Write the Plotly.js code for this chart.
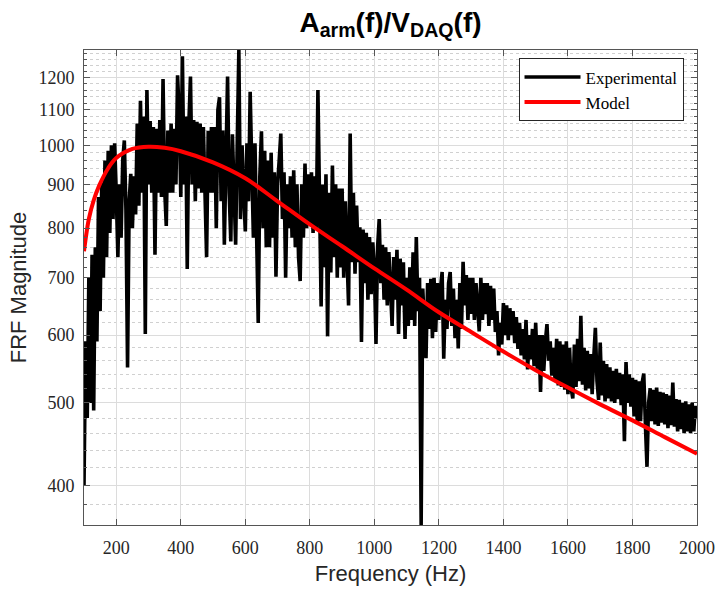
<!DOCTYPE html>
<html>
<head>
<meta charset="utf-8">
<script src="https://cdn.plot.ly/plotly-3.0.1.min.js"></script>
<style>html,body{margin:0;padding:0;background:#fff}#chart{width:715px;height:589px}</style>
</head>
<body>
<div id="chart"></div>
<script>
// Frequency grid of the experimental FRF (Hz)
const freqStart = 100;
const freqStep = 5;

// Experimental FRF magnitude, one value per 5 Hz bin (100 ... 2000 Hz)
const experimental = [
  // 100-195
  400, 590, 480, 700, 500, 745, 490, 760, 590, 870, 640, 905, 700, 960, 740, 985, 790, 1000, 820, 1005,
  // 200-295
  880, 740, 900, 780, 960, 1013, 840, 550, 860, 926, 800, 920, 830, 1060, 850, 1127, 880, 1080, 602, 1160,
  // 300-395
  900, 1067, 880, 1050, 745, 1045, 880, 1070, 870, 1195, 890, 805, 1040, 880, 1060, 880, 1045, 900, 1207, 1090,
  // 400-495
  870, 1270, 900, 1080, 717, 1060, 1203, 900, 1070, 860, 1065, 890, 1060, 880, 1050, 870, 740, 1040, 880, 1050,
  // 500-595
  880, 1050, 800, 1100, 1138, 860, 1040, 765, 1000, 1203, 880, 772, 1030, 860, 765, 1010, 1292, 820, 1000, 880,
  // 600-695
  793, 1005, 860, 1155, 900, 780, 1005, 800, 620, 920, 1038, 800, 985, 760, 960, 760, 980, 780, 930, 702,
  // 700-795
  900, 960, 1032, 820, 930, 700, 900, 800, 920, 780, 935, 760, 900, 740, 694, 900, 780, 952, 800, 925,
  // 800-895
  810, 930, 790, 920, 800, 1160, 780, 648, 900, 720, 925, 598, 880, 710, 947, 740, 900, 700, 890, 720,
  // 900-995
  890, 700, 860, 720, 650, 1032, 730, 880, 708, 850, 730, 802, 589, 797, 690, 790, 660, 781, 670, 770,
  // 1000-1095
  720, 586, 760, 820, 690, 765, 660, 760, 650, 750, 670, 615, 740, 660, 755, 602, 737, 650, 730, 594,
  // 1100-1195
  700, 615, 720, 625, 750, 615, 781, 640, 700, 360, 680, 625, 564, 690, 610, 698, 595, 700, 605, 690,
  // 1200-1295
  625, 680, 711, 563, 660, 610, 690, 711, 615, 680, 595, 660, 579, 690, 610, 731, 650, 705, 625, 700,
  // 1300-1395
  635, 700, 625, 690, 640, 606, 700, 625, 690, 635, 690, 615, 685, 625, 680, 605, 640, 568, 620, 585,
  // 1400-1495
  654, 600, 650, 592, 645, 600, 640, 587, 630, 578, 620, 568, 610, 562, 625, 547, 600, 562, 610, 552,
  // 1500-1595
  620, 548, 600, 515, 600, 545, 590, 618, 560, 590, 538, 580, 532, 594, 524, 590, 522, 585, 518, 590,
  // 1600-1695
  512, 580, 520, 506, 585, 522, 594, 530, 632, 525, 580, 517, 575, 520, 570, 512, 565, 612, 530, 504,
  // 1700-1795
  588, 510, 560, 502, 555, 506, 550, 502, 545, 500, 548, 505, 542, 497, 540, 451, 558, 500, 540, 495,
  // 1800-1895
  535, 482, 532, 473, 530, 476, 528, 541, 472, 421, 500, 520, 476, 518, 472, 521, 470, 515, 474, 514,
  // 1900-2000
  472, 512, 467, 510, 471, 528, 469, 505, 463, 504, 466, 500, 461, 502, 463, 498, 461, 500, 463, 496, 480
];

// Model FRF magnitude
const modelFreq = [100, 115, 130, 147, 175, 200, 250, 300, 350, 400, 500, 600, 700, 800, 900, 1000, 1100, 1200, 1300, 1400, 1500, 1600, 1700, 1800, 1900, 2000];
const modelVals = [752, 820, 862, 897, 940, 966, 990, 996, 993, 984, 955, 915, 860, 808, 762, 718, 678, 638, 605, 574, 546, 521, 498, 477, 456, 436];

// Tick labels
const xTicks = [200, 400, 600, 800, 1000, 1200, 1400, 1600, 1800, 2000];
const yTicks = [400, 500, 600, 700, 800, 900, 1000, 1100, 1200];
const yMinorTicks = [380, 420, 440, 460, 480, 520, 540, 560, 580, 620, 640, 660, 680, 720, 740, 760, 780,
  820, 840, 860, 880, 920, 940, 960, 980, 1020, 1040, 1060, 1080, 1120, 1140, 1160, 1180, 1220, 1240, 1260, 1280];

const expFreq = experimental.map((_, i) => freqStart + i * freqStep);

const serif = '"Liberation Serif", "DejaVu Serif", serif';
const sans = '"Liberation Sans", Arial, sans-serif';

const traces = [
  {
    x: expFreq, y: experimental, type: 'scatter', mode: 'lines', name: 'Experimental',
    line: {color: '#000000', width: 3.6}
  },
  {
    x: modelFreq, y: modelVals, type: 'scatter', mode: 'lines', name: 'Model',
    line: {color: '#ff0000', width: 4, shape: 'spline'}
  }
];

const layout = {
  width: 715, height: 589,
  margin: {l: 84, r: 18, t: 50, b: 64},
  paper_bgcolor: '#ffffff', plot_bgcolor: '#ffffff',
  showlegend: true,
  title: {
    text: '<b>A<sub>arm</sub>(f)/V<sub>DAQ</sub>(f)</b>',
    font: {family: sans, size: 28, color: '#000000'},
    x: 0.5, xanchor: 'center', xref: 'paper',
    y: 0.963, yanchor: 'middle', yref: 'container'
  },
  xaxis: {
    range: [100, 2000],
    tickmode: 'array', tickvals: xTicks, ticktext: xTicks.map(String),
    ticks: 'inside', ticklen: 6, tickcolor: '#555', tickwidth: 1,
    showline: true, linecolor: '#555', linewidth: 1, mirror: 'allticks',
    showgrid: true, gridcolor: '#dcdcdc', gridwidth: 1, zeroline: false,
    tickfont: {family: serif, size: 18, color: '#262626'},
    ticklabelstandoff: 6,
    title: {text: 'Frequency (Hz)', font: {family: sans, size: 22, color: '#262626'}, standoff: 9}
  },
  yaxis: {
    type: 'log',
    range: [Math.log10(360), Math.log10(1292)],
    tickmode: 'array', tickvals: yTicks, ticktext: yTicks.map(String),
    ticks: 'inside', ticklen: 6, tickcolor: '#555', tickwidth: 1,
    showline: true, linecolor: '#555', linewidth: 1, mirror: 'allticks',
    showgrid: true, gridcolor: '#dcdcdc', gridwidth: 1, zeroline: false,
    tickfont: {family: serif, size: 18, color: '#262626'},
    ticklabelstandoff: 5,
    minor: {
      tickmode: 'array', tickvals: yMinorTicks,
      ticks: 'inside', ticklen: 3, tickcolor: '#555',
      showgrid: true, gridcolor: '#d0d0d0', griddash: 'dot', gridwidth: 1
    },
    title: {text: 'FRF Magnitude', font: {family: sans, size: 22, color: '#262626'}, standoff: 5}
  },
  legend: {
    x: 0.978, xanchor: 'right', xref: 'paper',
    y: 0.916, yanchor: 'middle', yref: 'paper',
    bgcolor: '#ffffff', bordercolor: '#262626', borderwidth: 1,
    font: {family: serif, size: 17, color: '#000000'},
    itemwidth: 56, tracegroupgap: 0
  }
};

Plotly.newPlot('chart', traces, layout, {displayModeBar: false, staticPlot: true});
</script>
</body>
</html>
